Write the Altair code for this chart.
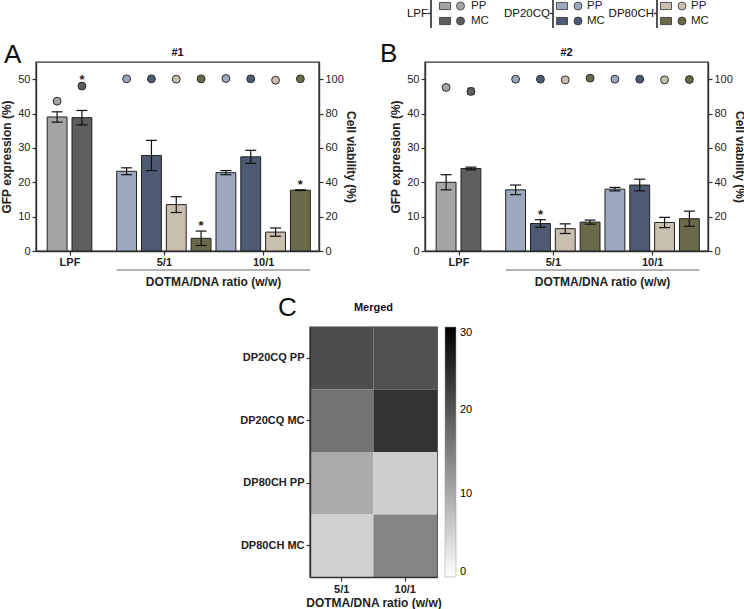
import altair as alt
import pandas as pd

FONT = "Liberation Sans"
INK = "#222222"

# ---- series / colours -------------------------------------------------------
series_names = ["LPF PP", "LPF MC", "DP20CQ PP", "DP20CQ MC", "DP80CH PP", "DP80CH MC"]
series_colors = ["#a4a4a7", "#5e5e5f", "#9ca8bc", "#4e5a71", "#c9bfae", "#6a6a4a"]
families = ["LPF", "DP20CQ", "DP80CH"]
kinds = ["PP", "MC"]

# ---- bar order in panels A and B -------------------------------------------
ratio_groups = ["LPF", "5/1", "10/1"]
bar_ratio = ["LPF", "LPF", "5/1", "5/1", "5/1", "5/1", "10/1", "10/1", "10/1", "10/1"]
bar_series = ["LPF PP", "LPF MC", "DP20CQ PP", "DP20CQ MC", "DP80CH PP", "DP80CH MC",
              "DP20CQ PP", "DP20CQ MC", "DP80CH PP", "DP80CH MC"]

# ---- experiment #1 ----------------------------------------------------------
gfp_1 = [39.0, 38.8, 23.2, 27.8, 13.5, 3.7, 22.8, 27.4, 5.5, 17.7]
gfp_1_sd = [1.5, 2.1, 1.0, 4.4, 2.3, 2.1, 0.6, 1.9, 1.2, 0.1]
via_1 = [87.2, 96.0, 100.2, 100.2, 100.0, 100.2, 100.4, 100.2, 99.4, 100.2]
via_1_sd = [0.4, 0.5, 0.3, 0.3, 0.3, 0.3, 0.3, 0.3, 0.3, 0.3]
gfp_1_sig = [False, False, False, False, False, True, False, False, False, True]
via_1_sig = [False, True, False, False, False, False, False, False, False, False]

# ---- experiment #2 ----------------------------------------------------------
gfp_2 = [20.0, 24.0, 17.8, 8.0, 6.5, 8.4, 18.0, 19.2, 8.3, 9.4]
gfp_2_sd = [2.2, 0.4, 1.4, 1.1, 1.4, 0.6, 0.5, 1.7, 1.5, 2.2]
via_2 = [95.2, 92.9, 100.0, 100.0, 99.6, 100.6, 100.0, 100.0, 99.6, 99.8]
via_2_sd = [0.6, 1.8, 0.3, 0.3, 0.3, 0.3, 0.3, 0.3, 0.3, 0.3]
gfp_2_sig = [False, False, False, True, False, False, False, False, False, False]
via_2_sig = [False] * 10

# ---- merged heat map --------------------------------------------------------
heat_rows = ["DP20CQ PP", "DP20CQ MC", "DP80CH PP", "DP80CH MC"]
heat_cols = ["5/1", "10/1"]
heat_values = [[21.0, 20.6], [16.5, 24.0], [10.0, 5.8], [5.5, 14.5]]

# ---- layout of the bar panels ----------------------------------------------
W, H = 283, 189
X_MAX = 11.4
BAR_HALF = 0.4
group_start = {"LPF": 0.85, "5/1": 3.65, "10/1": 7.65}

# key placement above panel B (pixels from the panel's top-left corner):
# bracket x, swatch x, dot x, label x for each family
KEY_ROWS_Y = [-56, -41]
key_layout = {
    "LPF": (6, 20, 35.5, 46),
    "DP20CQ": (128, 137, 153, 162),
    "DP80CH": (232, 241, 257, 266),
}

color_scale = alt.Scale(domain=series_names, range=series_colors)


def bar_table(gfp, gfp_sd, via, via_sd, gsig, vsig):
    seen = {}
    pos = []
    for g in bar_ratio:
        k = seen.get(g, 0)
        pos.append(group_start[g] + k)
        seen[g] = k + 1
    df = pd.DataFrame({
        "ratio": bar_ratio, "series": bar_series, "pos": pos,
        "gfp": gfp, "gsd": gfp_sd, "via": via, "vsd": via_sd,
        "gsig": gsig, "vsig": vsig,
    })
    df["x0"] = df["pos"] - BAR_HALF
    df["x1"] = df["pos"] + BAR_HALF
    df["g_lo"] = df["gfp"] - df["gsd"]
    df["g_hi"] = df["gfp"] + df["gsd"]
    df["v_lo"] = df["via"] - df["vsd"]
    df["v_hi"] = df["via"] + df["vsd"]
    return df


def group_centers():
    out = []
    for g in ratio_groups:
        n = bar_ratio.count(g)
        out.append(group_start[g] + (n - 1) / 2)
    return out


def caption(text, dx, dy, size, weight="normal", align="left", baseline="alphabetic"):
    return alt.Chart(pd.DataFrame({"t": [text]})).mark_text(
        fontSize=size, fontWeight=weight, align=align, baseline=baseline,
        color="#111111",
    ).encode(x=alt.value(dx), y=alt.value(dy), text="t:N")


def key_layers():
    """Family brackets with bar swatch, dot and PP / MC labels."""
    layers = []
    ky = alt.Scale(type="point", domain=kinds, range=KEY_ROWS_Y, padding=0)
    fill = alt.Fill("series:N", scale=color_scale, legend=None)
    top, bottom = KEY_ROWS_Y[0] - 7, KEY_ROWS_Y[1] + 7
    mid = (KEY_ROWS_Y[0] + KEY_ROWS_Y[1]) / 2
    for fam in families:
        bx, sx, cx, tx = key_layout[fam]
        kb = alt.Chart(pd.DataFrame({"kind": kinds,
                                     "series": [f"{fam} {k}" for k in kinds]}))
        yk = alt.Y("kind:N", scale=ky, axis=None)
        layers += [
            kb.mark_point(shape="M-1,-0.65H1V0.65H-1Z", filled=True, size=121,
                          stroke="#333333", strokeWidth=0.8, opacity=1).encode(
                x=alt.value(sx), y=yk, fill=fill),
            kb.mark_point(shape="circle", filled=True, size=64, stroke="#333333",
                          strokeWidth=0.8, opacity=1).encode(
                x=alt.value(cx), y=yk, fill=fill),
            kb.mark_text(align="left", baseline="middle", fontSize=11.5,
                         color=INK).encode(x=alt.value(tx), y=yk, text="kind:N"),
            kb.mark_rule(color="#333333", strokeWidth=1.2).encode(
                x=alt.value(bx), y=alt.value(top), y2=alt.value(bottom)),
            kb.mark_rule(color="#333333", strokeWidth=1.2).encode(
                x=alt.value(bx - 3), x2=alt.value(bx), y=alt.value(mid)),
            caption(fam, bx - 3, mid, 11.5, align="right", baseline="middle"),
        ]
    return layers


def panel(gfp, gfp_sd, via, via_sd, gsig, vsig, title, letter, letter_dx, letter_dy,
          with_key=False):
    df = bar_table(gfp, gfp_sd, via, via_sd, gsig, vsig)
    base = alt.Chart(df)

    centers = group_centers()
    label_expr = "''"
    for c, g in reversed(list(zip(centers, ratio_groups))):
        label_expr = f"abs(datum.value - {c}) < 0.01 ? '{g}' : " + label_expr

    xscale = alt.Scale(domain=[0, X_MAX], nice=False, zero=False)
    xaxis = alt.Axis(values=centers, labelExpr=label_expr, title=None, grid=False,
                     tickSize=4, labelPadding=1, labelFontWeight="bold",
                     labelFontSize=11)

    def X(field):
        return alt.X(f"{field}:Q", scale=xscale, axis=xaxis)

    gy = alt.Scale(domain=[0, 55], nice=False, zero=True)
    vy = alt.Scale(domain=[0, 110], nice=False, zero=True)
    left_axis = alt.Axis(values=[0, 10, 20, 30, 40, 50], title="GFP expression (%)",
                         titleFontSize=12, titleFontWeight="bold", titlePadding=4,
                         tickSize=4, labelFontSize=11, grid=False)
    right_axis = alt.Axis(orient="right", values=[0, 20, 40, 60, 80, 100],
                          title="Cell viability (%)", titleFontSize=12,
                          titleFontWeight="bold", titlePadding=0, tickSize=4,
                          labelFontSize=11, grid=False)

    fill = alt.Fill("series:N", scale=color_scale, legend=None)

    bars = base.mark_bar(stroke=INK, strokeWidth=1).encode(
        x=X("x0"), x2="x1",
        y=alt.Y("gfp:Q", scale=gy, axis=left_axis), y2=alt.datum(0),
        fill=fill,
    )
    g_err = base.mark_rule(color="#111111", strokeWidth=1.2).encode(
        x=X("pos"), y=alt.Y("g_lo:Q", scale=gy, axis=None), y2="g_hi:Q"
    )
    g_cap_hi = base.mark_tick(orient="horizontal", size=11, thickness=1.2,
                              color="#111111", opacity=1).encode(
        x=X("pos"), y=alt.Y("g_hi:Q", scale=gy, axis=None)
    )
    g_cap_lo = base.mark_tick(orient="horizontal", size=11, thickness=1.2,
                              color="#111111", opacity=1).encode(
        x=X("pos"), y=alt.Y("g_lo:Q", scale=gy, axis=None)
    )
    v_err = base.mark_rule(color="#111111", strokeWidth=1.2).encode(
        x=X("pos"), y=alt.Y("v_lo:Q", scale=vy, axis=None), y2="v_hi:Q"
    )
    v_cap_hi = base.mark_tick(orient="horizontal", size=7, thickness=1.2,
                              color="#111111", opacity=1).encode(
        x=X("pos"), y=alt.Y("v_hi:Q", scale=vy, axis=None)
    )
    v_cap_lo = base.mark_tick(orient="horizontal", size=7, thickness=1.2,
                              color="#111111", opacity=1).encode(
        x=X("pos"), y=alt.Y("v_lo:Q", scale=vy, axis=None)
    )
    dots = base.mark_point(filled=True, shape="circle", size=62, stroke="#2b2b2b",
                           strokeWidth=1, opacity=1).encode(
        x=X("pos"), y=alt.Y("via:Q", scale=vy, axis=right_axis), fill=fill
    )
    g_star = base.transform_filter("datum.gsig").mark_text(
        text="*", fontSize=13, fontWeight="bold", baseline="middle", dy=-5, color=INK
    ).encode(x=X("pos"), y=alt.Y("g_hi:Q", scale=gy, axis=None))
    v_star = base.transform_filter("datum.vsig").mark_text(
        text="*", fontSize=13, fontWeight="bold", baseline="middle", dy=-5, color=INK
    ).encode(x=X("pos"), y=alt.Y("v_hi:Q", scale=vy, axis=None))

    ratio_bars = df[df["ratio"] != "LPF"]
    span = pd.DataFrame({
        "x_start": [ratio_bars["x0"].min()],
        "x_end": [ratio_bars["x1"].max()],
        "label": ["DOTMA/DNA ratio (w/w)"],
    })
    span["mid"] = (span["x_start"] + span["x_end"]) / 2
    span_rule = alt.Chart(span).mark_rule(color="#666666", strokeWidth=1).encode(
        x=X("x_start"), x2="x_end", y=alt.value(H + 19)
    )
    span_text = alt.Chart(span).mark_text(fontSize=12, fontWeight="bold",
                                          baseline="middle", color=INK).encode(
        x=X("mid"), y=alt.value(H + 31), text="label:N"
    )

    layers = [bars, g_err, g_cap_hi, g_cap_lo, v_err, v_cap_hi, v_cap_lo, dots,
              g_star, v_star, span_rule, span_text,
              caption(letter, letter_dx, letter_dy, 26),
              caption(title, W / 2, -9, 11, weight="bold", align="center",
                      baseline="middle")]
    if with_key:
        layers += key_layers()

    return alt.layer(*layers).resolve_scale(y="independent").properties(
        width=W, height=H)


panel_a = panel(gfp_1, gfp_1_sd, via_1, via_1_sd, gfp_1_sig, via_1_sig,
                "#1", "A", -32, 1)
panel_b = panel(gfp_2, gfp_2_sd, via_2, via_2_sd, gfp_2_sig, via_2_sig,
                "#2", "B", -45, 0, with_key=True)

# ---- heat map ---------------------------------------------------------------
HW, HH = 127, 250
heat_df = pd.DataFrame([
    {"formulation": r, "ratio": c, "value": heat_values[i][j]}
    for i, r in enumerate(heat_rows) for j, c in enumerate(heat_cols)
])
heat_rect = alt.Chart(heat_df).mark_rect().encode(
    x=alt.X("ratio:N", sort=heat_cols,
            axis=alt.Axis(title="DOTMA/DNA ratio (w/w)", labelAngle=0,
                          labelFontWeight="bold", labelFontSize=11, tickSize=4,
                          titleFontSize=12, titleFontWeight="bold", titlePadding=3)),
    y=alt.Y("formulation:N", sort=heat_rows,
            axis=alt.Axis(title=None, labelFontWeight="bold", labelFontSize=11,
                          tickSize=4, labelPadding=2)),
    color=alt.Color("value:Q",
                    scale=alt.Scale(domain=[0, 30], range=["#ffffff", "#000000"],
                                    interpolate="rgb"),
                    legend=alt.Legend(title=None, values=[0, 10, 20, 30],
                                      gradientLength=HH, gradientThickness=11,
                                      offset=8, labelFontSize=11, labelOffset=4,
                                      gradientStrokeColor="#999999",
                                      gradientStrokeWidth=0.5)),
)
heat = alt.layer(
    heat_rect,
    caption("C", -32, -11, 26),
    caption("Merged", HW / 2, -19, 11, weight="bold", align="center",
            baseline="middle"),
).properties(width=HW, height=HH)


def spacer(w):
    return alt.Chart(pd.DataFrame({"v": [0]})).mark_point(opacity=0).encode(
        x=alt.value(0), y=alt.value(0)
    ).properties(width=w, height=1, view=alt.ViewBackground(stroke="transparent"))


panel_row = alt.hconcat(panel_a, panel_b, spacing=21)
heat_row = alt.hconcat(spacer(202), heat, spacing=0).resolve_scale(
    color="independent").resolve_legend(color="independent")

chart = alt.vconcat(panel_row, heat_row, spacing=5).resolve_scale(
    color="independent"
).resolve_legend(
    color="independent"
).properties(
    padding={"left": 0, "top": -3, "right": -3, "bottom": 0},
).configure(
    font=FONT,
).configure_view(
    stroke="#333333", strokeWidth=1.4,
).configure_axis(
    labelFont=FONT, titleFont=FONT, labelColor=INK, titleColor=INK,
    domainColor="#333333", tickColor="#333333", domainWidth=1.4, tickWidth=1.2,
    grid=False,
)

chart.save("out.html", embed_options={"renderer": "svg", "actions": False})
